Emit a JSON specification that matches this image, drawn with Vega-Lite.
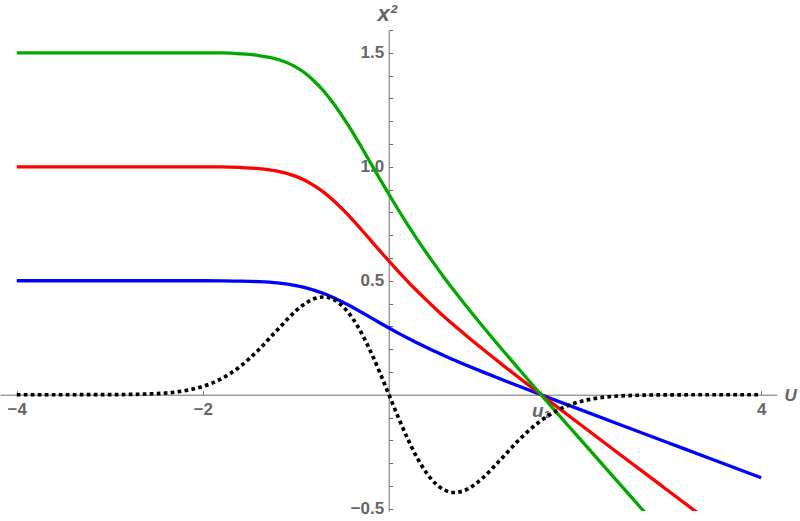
{
  "$schema": "https://vega.github.io/schema/vega-lite/v6.json",
  "width": 777,
  "height": 481,
  "autosize": "none",
  "padding": {"left": 0, "top": 30, "right": 23, "bottom": 10},
  "background": "white",
  "config": {
    "view": {"stroke": null},
    "axis": {
      "grid": false,
      "domainColor": "#6e6e6e",
      "tickColor": "#6e6e6e",
      "labelColor": "#666666",
      "titleColor": "#666666",
      "labelFont": "Liberation Sans",
      "titleFont": "Liberation Sans",
      "labelFontSize": 17,
      "labelFontWeight": "bold",
      "titleFontWeight": "bold"
    }
  },
  "data": {
    "values": [
      {"s": "b", "U": -4, "x2": 0.5}, {"s": "b", "U": -3, "x2": 0.5}, {"s": "b", "U": -2.5, "x2": 0.5}, {"s": "b", "U": -2.2, "x2": 0.5}, {"s": "b", "U": -2, "x2": 0.5}, {"s": "b", "U": -1.8, "x2": 0.4998}, {"s": "b", "U": -1.6, "x2": 0.4985}, {"s": "b", "U": -1.4, "x2": 0.496}, {"s": "b", "U": -1.2, "x2": 0.4905}, {"s": "b", "U": -1.0, "x2": 0.479}, {"s": "b", "U": -0.9, "x2": 0.47}, {"s": "b", "U": -0.8, "x2": 0.458}, {"s": "b", "U": -0.7, "x2": 0.4438}, {"s": "b", "U": -0.6, "x2": 0.4265}, {"s": "b", "U": -0.5, "x2": 0.407}, {"s": "b", "U": -0.4, "x2": 0.386}, {"s": "b", "U": -0.3, "x2": 0.363}, {"s": "b", "U": -0.2, "x2": 0.3395}, {"s": "b", "U": -0.1, "x2": 0.316}, {"s": "b", "U": 0, "x2": 0.293}, {"s": "b", "U": 0.1, "x2": 0.2705}, {"s": "b", "U": 0.2, "x2": 0.2488}, {"s": "b", "U": 0.3, "x2": 0.228}, {"s": "b", "U": 0.4, "x2": 0.208}, {"s": "b", "U": 0.5, "x2": 0.1888}, {"s": "b", "U": 0.6, "x2": 0.17}, {"s": "b", "U": 0.8, "x2": 0.135}, {"s": "b", "U": 1.0, "x2": 0.1013}, {"s": "b", "U": 1.2, "x2": 0.0687}, {"s": "b", "U": 1.4, "x2": 0.0369}, {"s": "b", "U": 1.6, "x2": 0.0055}, {"s": "b", "U": 1.8, "x2": -0.0257}, {"s": "b", "U": 2.0, "x2": -0.0566}, {"s": "b", "U": 2.5, "x2": -0.1337}, {"s": "b", "U": 3.0, "x2": -0.2105}, {"s": "b", "U": 3.5, "x2": -0.2873}, {"s": "b", "U": 4.0, "x2": -0.364},

      {"s": "r", "U": -4, "x2": 1}, {"s": "r", "U": -3, "x2": 1}, {"s": "r", "U": -2.5, "x2": 1}, {"s": "r", "U": -2.2, "x2": 1}, {"s": "r", "U": -2, "x2": 1}, {"s": "r", "U": -1.8, "x2": 0.9995}, {"s": "r", "U": -1.6, "x2": 0.997}, {"s": "r", "U": -1.4, "x2": 0.992}, {"s": "r", "U": -1.2, "x2": 0.981}, {"s": "r", "U": -1.0, "x2": 0.958}, {"s": "r", "U": -0.9, "x2": 0.94}, {"s": "r", "U": -0.8, "x2": 0.916}, {"s": "r", "U": -0.7, "x2": 0.8875}, {"s": "r", "U": -0.6, "x2": 0.853}, {"s": "r", "U": -0.5, "x2": 0.814}, {"s": "r", "U": -0.4, "x2": 0.772}, {"s": "r", "U": -0.3, "x2": 0.726}, {"s": "r", "U": -0.2, "x2": 0.679}, {"s": "r", "U": -0.1, "x2": 0.632}, {"s": "r", "U": 0, "x2": 0.586}, {"s": "r", "U": 0.1, "x2": 0.541}, {"s": "r", "U": 0.2, "x2": 0.4975}, {"s": "r", "U": 0.3, "x2": 0.456}, {"s": "r", "U": 0.4, "x2": 0.416}, {"s": "r", "U": 0.5, "x2": 0.3775}, {"s": "r", "U": 0.6, "x2": 0.34}, {"s": "r", "U": 0.8, "x2": 0.27}, {"s": "r", "U": 1.0, "x2": 0.2025}, {"s": "r", "U": 1.2, "x2": 0.1374}, {"s": "r", "U": 1.4, "x2": 0.0738}, {"s": "r", "U": 1.6, "x2": 0.0109}, {"s": "r", "U": 1.8, "x2": -0.0513}, {"s": "r", "U": 2.0, "x2": -0.1132}, {"s": "r", "U": 2.5, "x2": -0.2674}, {"s": "r", "U": 3.0, "x2": -0.421}, {"s": "r", "U": 3.5, "x2": -0.5745},

      {"s": "g", "U": -4, "x2": 1.5}, {"s": "g", "U": -3, "x2": 1.5}, {"s": "g", "U": -2.5, "x2": 1.5}, {"s": "g", "U": -2.2, "x2": 1.5}, {"s": "g", "U": -2, "x2": 1.5}, {"s": "g", "U": -1.8, "x2": 1.4993}, {"s": "g", "U": -1.6, "x2": 1.4955}, {"s": "g", "U": -1.4, "x2": 1.488}, {"s": "g", "U": -1.2, "x2": 1.4715}, {"s": "g", "U": -1.0, "x2": 1.437}, {"s": "g", "U": -0.9, "x2": 1.41}, {"s": "g", "U": -0.8, "x2": 1.374}, {"s": "g", "U": -0.7, "x2": 1.3313}, {"s": "g", "U": -0.6, "x2": 1.2795}, {"s": "g", "U": -0.5, "x2": 1.221}, {"s": "g", "U": -0.4, "x2": 1.158}, {"s": "g", "U": -0.3, "x2": 1.089}, {"s": "g", "U": -0.2, "x2": 1.0185}, {"s": "g", "U": -0.1, "x2": 0.948}, {"s": "g", "U": 0, "x2": 0.879}, {"s": "g", "U": 0.1, "x2": 0.8115}, {"s": "g", "U": 0.2, "x2": 0.7463}, {"s": "g", "U": 0.3, "x2": 0.684}, {"s": "g", "U": 0.4, "x2": 0.624}, {"s": "g", "U": 0.5, "x2": 0.5663}, {"s": "g", "U": 0.6, "x2": 0.51}, {"s": "g", "U": 0.8, "x2": 0.405}, {"s": "g", "U": 1.0, "x2": 0.3038}, {"s": "g", "U": 1.2, "x2": 0.2061}, {"s": "g", "U": 1.4, "x2": 0.1107}, {"s": "g", "U": 1.6, "x2": 0.0164}, {"s": "g", "U": 1.8, "x2": -0.077}, {"s": "g", "U": 2.0, "x2": -0.1698}, {"s": "g", "U": 2.5, "x2": -0.4011}, {"s": "g", "U": 3.0, "x2": -0.6315},

      {"s": "d", "U": -4, "x2": 0}, {"s": "d", "U": -3.5, "x2": 0.00002}, {"s": "d", "U": -3, "x2": 0.00037}, {"s": "d", "U": -2.5, "x2": 0.00483}, {"s": "d", "U": -2.2, "x2": 0.0174}, {"s": "d", "U": -2, "x2": 0.0366}, {"s": "d", "U": -1.8, "x2": 0.0705}, {"s": "d", "U": -1.6, "x2": 0.1237}, {"s": "d", "U": -1.4, "x2": 0.1972}, {"s": "d", "U": -1.2, "x2": 0.2843}, {"s": "d", "U": -1.0, "x2": 0.3679}, {"s": "d", "U": -0.9, "x2": 0.4004}, {"s": "d", "U": -0.8, "x2": 0.4218}, {"s": "d", "U": -0.7, "x2": 0.4288}, {"s": "d", "U": -0.6, "x2": 0.4186}, {"s": "d", "U": -0.5, "x2": 0.3894}, {"s": "d", "U": -0.4, "x2": 0.3409}, {"s": "d", "U": -0.3, "x2": 0.2742}, {"s": "d", "U": -0.2, "x2": 0.1922}, {"s": "d", "U": -0.1, "x2": 0.099}, {"s": "d", "U": 0, "x2": 0}, {"s": "d", "U": 0.1, "x2": -0.099}, {"s": "d", "U": 0.2, "x2": -0.1922}, {"s": "d", "U": 0.3, "x2": -0.2742}, {"s": "d", "U": 0.4, "x2": -0.3409}, {"s": "d", "U": 0.5, "x2": -0.3894}, {"s": "d", "U": 0.6, "x2": -0.4186}, {"s": "d", "U": 0.7, "x2": -0.4288}, {"s": "d", "U": 0.8, "x2": -0.4218}, {"s": "d", "U": 0.9, "x2": -0.4004}, {"s": "d", "U": 1.0, "x2": -0.3679}, {"s": "d", "U": 1.2, "x2": -0.2843}, {"s": "d", "U": 1.4, "x2": -0.1972}, {"s": "d", "U": 1.6, "x2": -0.1237}, {"s": "d", "U": 1.8, "x2": -0.0705}, {"s": "d", "U": 2.0, "x2": -0.0366}, {"s": "d", "U": 2.2, "x2": -0.0174}, {"s": "d", "U": 2.5, "x2": -0.00483}, {"s": "d", "U": 3, "x2": -0.00037}, {"s": "d", "U": 3.5, "x2": -0.00002}, {"s": "d", "U": 4, "x2": 0}
    ]
  },
  "encoding": {
    "x": {
      "field": "U",
      "type": "quantitative",
      "scale": {"domain": [-4.18, 4.17], "nice": false, "zero": false},
      "axis": {
        "orient": "bottom",
        "offset": -116.3,
        "values": [-4, -2, 1.63, 4],
        "labelExpr": "abs(datum.value-1.63)<0.01 ? 'u₁' : datum.value == -4 ? '−4' : datum.value == -2 ? '−2' : datum.value == 4 ? '4' : ''",
        "labelFontStyle": {"condition": {"test": "abs(datum.value-1.63)<0.01", "value": "italic"}, "value": "normal"},
        "labelFontSize": {"condition": {"test": "abs(datum.value-1.63)<0.01", "value": 19}, "value": 17},
        "tickSize": -4,
        "labelPadding": 11,
        "labelFlush": false,
        "labelOverlap": false,
        "title": "U",
        "titleFontStyle": "italic",
        "titleFontSize": 17,
        "titleX": 784,
        "titleY": 6,
        "titleAlign": "left",
        "titleBaseline": "alphabetic"
      }
    },
    "y": {
      "field": "x2",
      "type": "quantitative",
      "scale": {"domain": [-0.51, 1.6], "nice": false, "zero": false},
      "axis": {
        "orient": "left",
        "offset": -388.7,
        "values": [-0.5, -0.4, -0.3, -0.2, -0.1, 0.1, 0.2, 0.3, 0.4, 0.5, 0.6, 0.7, 0.8, 0.9, 1.0, 1.1, 1.2, 1.3, 1.4, 1.5, 1.6],
        "labelExpr": "abs(datum.value+0.5)<0.01 ? '−0.5' : abs(datum.value-0.5)<0.01 ? '0.5' : abs(datum.value-1)<0.01 ? '1.0' : abs(datum.value-1.5)<0.01 ? '1.5' : ''",
        "tickSize": -4,
        "labelPadding": 9,
        "labelFlush": false,
        "labelOverlap": false,
        "title": "x²",
        "titleAngle": 0,
        "titleFontStyle": "italic",
        "titleFontSize": 22,
        "titleX": -2,
        "titleY": -10,
        "titleAlign": "center",
        "titleBaseline": "alphabetic"
      }
    }
  },
  "layer": [
    {"transform": [{"filter": "datum.s == 'b'"}], "mark": {"type": "line", "color": "#0000ff", "strokeWidth": 3.3, "interpolate": "monotone", "clip": true}},
    {"transform": [{"filter": "datum.s == 'r'"}], "mark": {"type": "line", "color": "#ff0000", "strokeWidth": 3.3, "interpolate": "monotone", "clip": true}},
    {"transform": [{"filter": "datum.s == 'g'"}], "mark": {"type": "line", "color": "#00a800", "strokeWidth": 3.3, "interpolate": "monotone", "clip": true}},
    {"transform": [{"filter": "datum.s == 'd'"}], "mark": {"type": "line", "color": "#000000", "strokeWidth": 3.7, "strokeDash": [3.7, 3.3], "interpolate": "monotone", "clip": true}}
  ]
}
